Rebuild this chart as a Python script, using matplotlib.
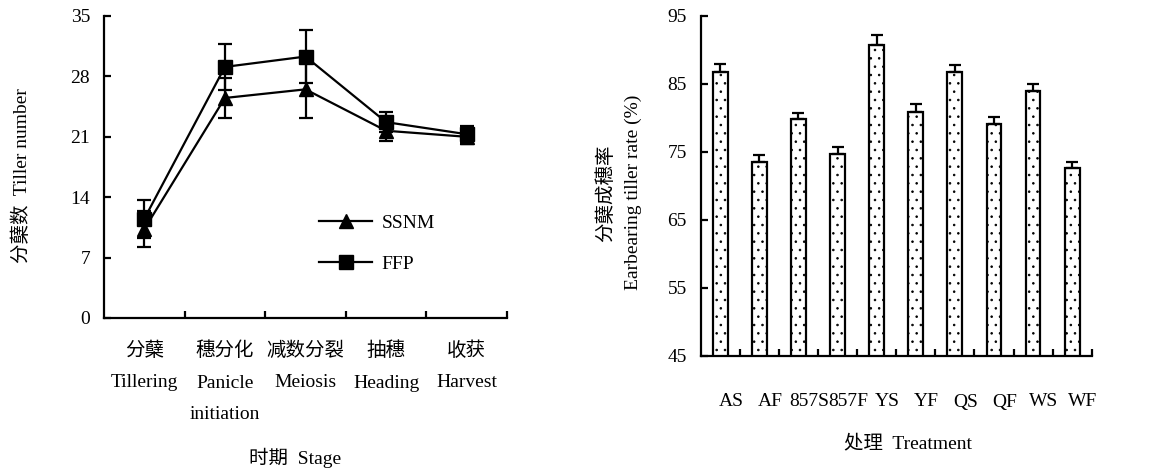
import numpy as np
import matplotlib
matplotlib.use('Agg')
import matplotlib.pyplot as plt
from matplotlib.lines import Line2D

plt.rcParams['font.family'] = ['Liberation Serif', 'Noto Sans CJK SC']
plt.rcParams['font.size'] = 14
plt.rcParams['hatch.linewidth'] = 0.6

# left panel: tiller number by stage
stages = ['分蘖\nTillering', '穗分化\nPanicle\ninitiation', '减数分裂\nMeiosis',
          '抽穗\nHeading', '收获\nHarvest']
ssnm = [10.3, 25.5, 26.5, 21.7, 21.0]
ssnm_err = [2.1, 2.3, 3.3, 1.2, 0.8]
ffp = [11.5, 29.1, 30.3, 22.7, 21.3]
ffp_err = [2.2, 2.7, 3.1, 1.2, 0.9]

# right panel: earbearing tiller rate
treat = ['AS', 'AF', '857S', '857F', 'YS', 'YF', 'QS', 'QF', 'WS', 'WF']
rate = [86.8, 73.5, 79.8, 74.7, 90.8, 80.9, 86.7, 79.1, 83.9, 72.6]
rate_err = [1.2, 1.1, 1.0, 1.0, 1.4, 1.2, 1.1, 1.0, 1.1, 1.0]

fig = plt.figure(figsize=(11.56, 4.68), dpi=100)

def style_axis(ax):
    for s in ['top', 'right']:
        ax.spines[s].set_visible(False)
    for s in ['left', 'bottom']:
        ax.spines[s].set_linewidth(1.6)
    ax.tick_params(which='major', direction='in', length=5, width=1.6)
    ax.tick_params(axis='y', pad=10)

# ---- left ----
ax1 = fig.add_axes([104/1156, 1-318/468, 403/1156, 302/468])
xc = np.arange(len(stages)) + 0.5
ax1.errorbar(xc, ssnm, yerr=ssnm_err, color='black', lw=1.6, marker='^', ms=10,
             capsize=5, capthick=1.6, elinewidth=1.6)
ax1.errorbar(xc, ffp, yerr=ffp_err, color='black', lw=1.6, marker='s', ms=9.5,
             capsize=5, capthick=1.6, elinewidth=1.6)
ax1.set_xlim(0, len(stages))
ax1.set_ylim(0, 35)
ax1.set_yticks(np.arange(0, 36, 7))
ax1.set_xticks(np.arange(1, len(stages) + 1))
ax1.set_xticklabels([])
ax1.set_xticks(xc, minor=True)
ax1.set_xticklabels(stages, minor=True, linespacing=2.1, va='top')
ax1.tick_params(axis='x', which='minor', length=0, pad=17)
style_axis(ax1)
ax1.set_ylabel('分蘖数  Tiller number')
ax1.yaxis.set_label_coords(-0.18, 0.47)
ax1.set_xlabel('时期  Stage')
ax1.xaxis.set_label_coords(0.475, -0.43)
handles = [Line2D([], [], color='black', lw=1.6, marker='^', ms=10),
           Line2D([], [], color='black', lw=1.6, marker='s', ms=9.5)]
ax1.legend(handles, ['SSNM', 'FFP'], frameon=False, loc='upper left',
           bbox_to_anchor=(0.515, 0.37), handlelength=2.7, labelspacing=1.2,
           handletextpad=0.5, borderaxespad=0)

# ---- right ----
ax2 = fig.add_axes([700.7/1156, 1-356/468, 391/1156, 340/468])
xb = np.arange(len(treat)) + 0.5
ax2.bar(xb, rate, width=0.38, color='white', edgecolor='black',
        lw=1.6, hatch='..')
ax2.errorbar(xb, rate, yerr=[np.zeros(len(rate)), rate_err], fmt='none',
             ecolor='black', elinewidth=1.6, capsize=4, capthick=1.6)
ax2.set_xlim(0, len(treat))
ax2.set_ylim(45, 95)
ax2.set_yticks(np.arange(45, 96, 10))
ax2.set_xticks(np.arange(1, len(treat) + 1))
ax2.set_xticklabels([])
ax2.set_xticks(xb + 0.28, minor=True)
ax2.set_xticklabels(treat, minor=True)
ax2.tick_params(axis='x', which='minor', length=0, pad=27)
style_axis(ax2)
ax2.set_ylabel('分蘖成穗率\nEarbearing tiller rate (%)', linespacing=1.75)
ax2.yaxis.set_label_coords(-0.15, 0.48)
ax2.set_xlabel('处理  Treatment')
ax2.xaxis.set_label_coords(0.53, -0.23)

fig.savefig('out.png', dpi=100)
